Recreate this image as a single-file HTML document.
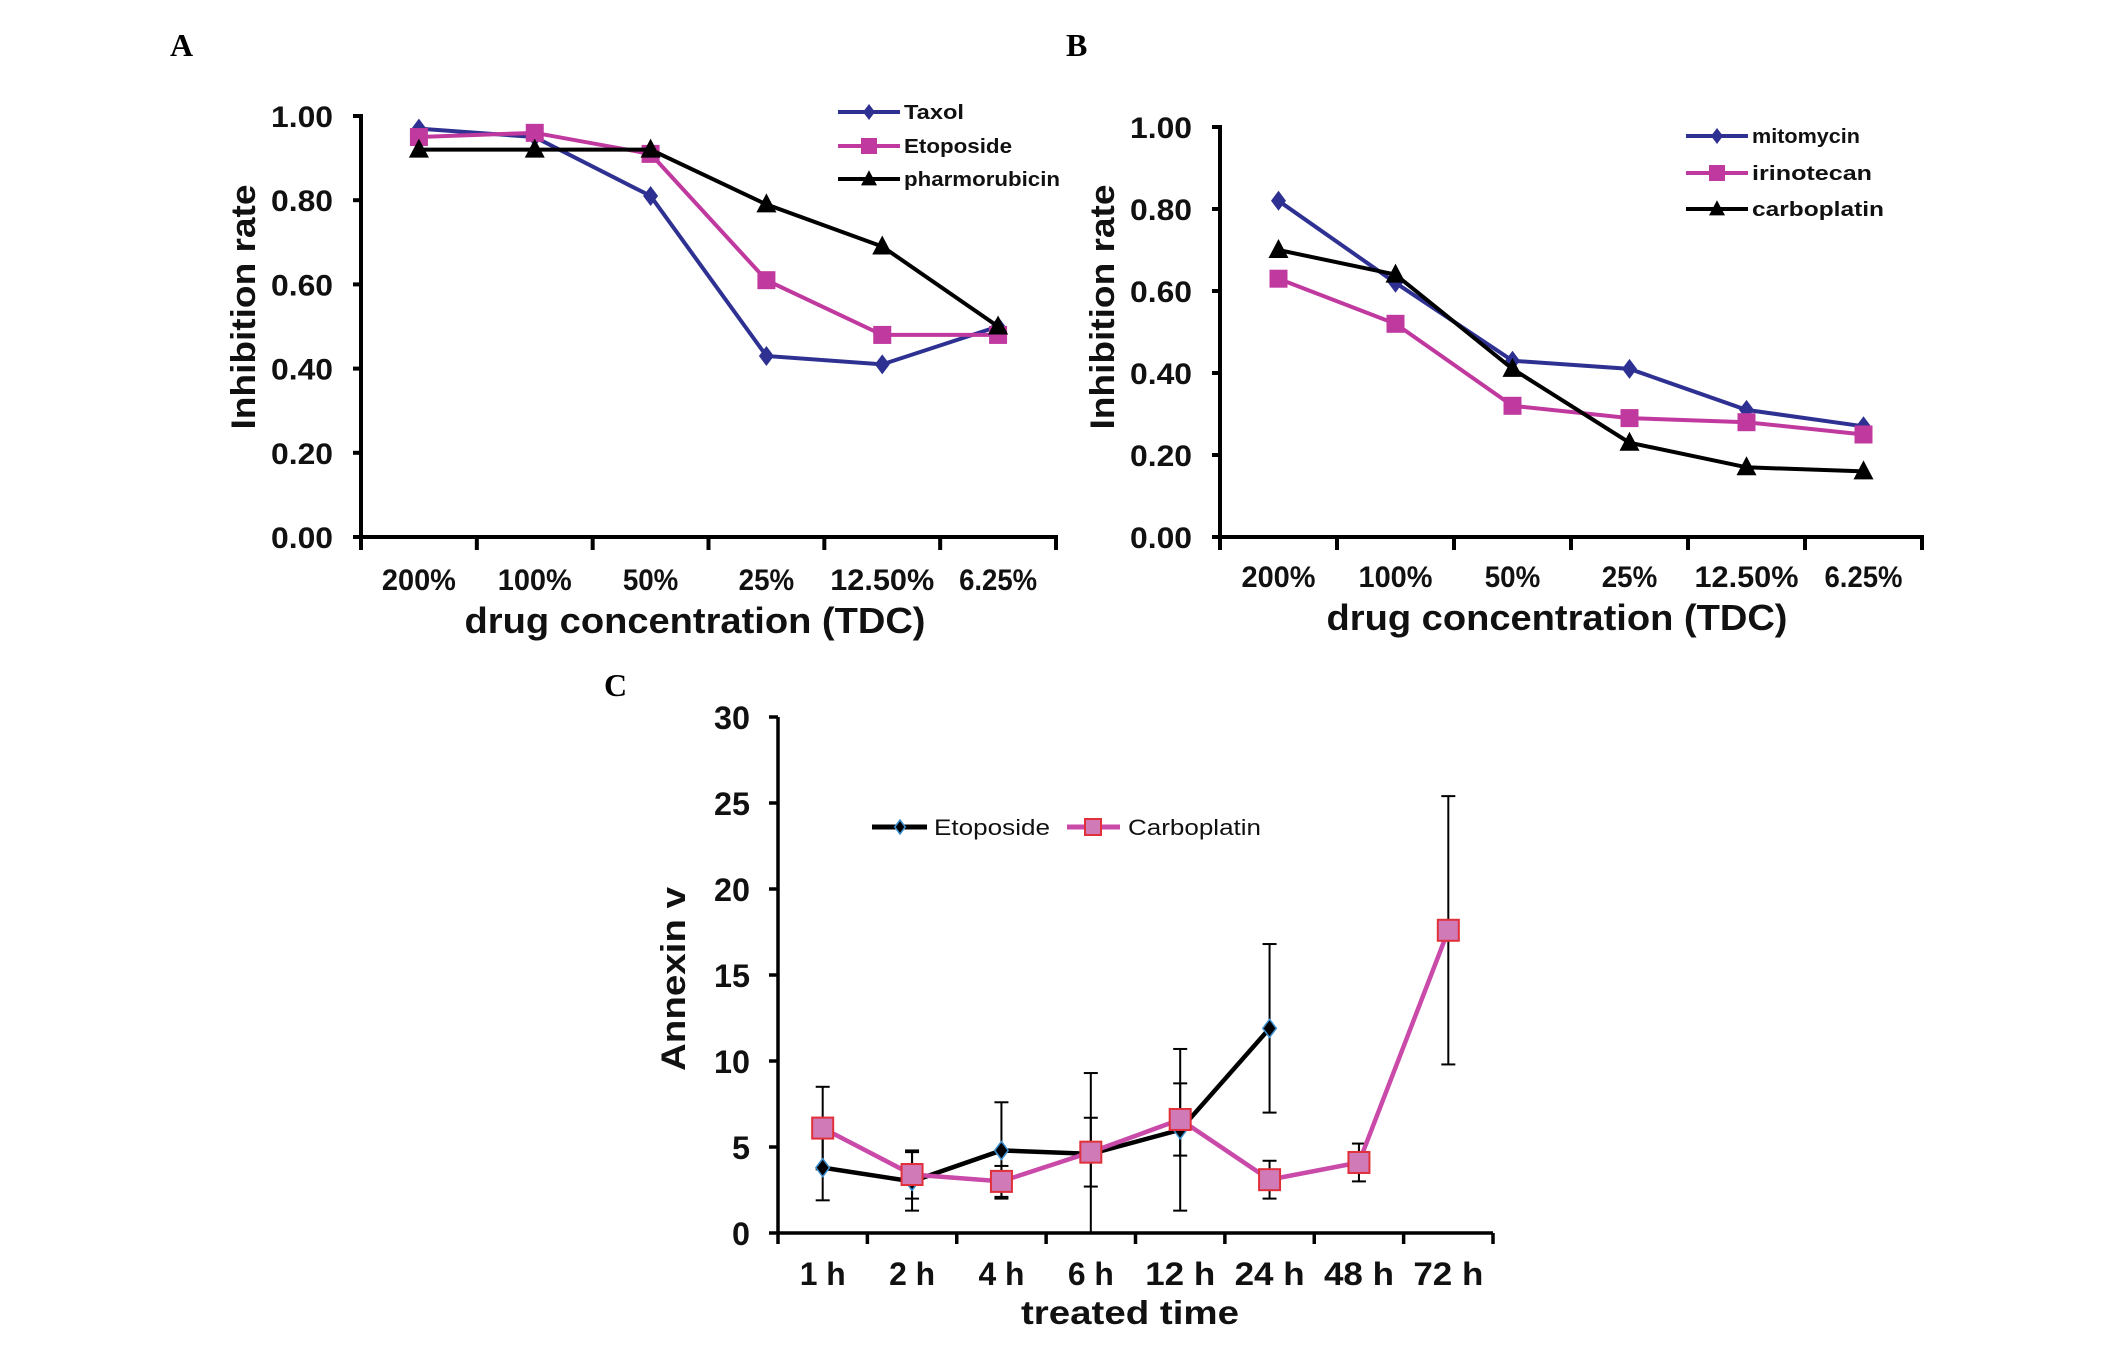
<!DOCTYPE html>
<html><head><meta charset="utf-8"><style>
html,body{margin:0;padding:0;background:#fff;overflow:hidden;}
svg{display:block;}
text{font-family:"Liberation Sans",sans-serif;}
</style></head>
<body>
<svg id="fig" width="2126" height="1347" viewBox="0 0 2126 1347" xmlns="http://www.w3.org/2000/svg">
<rect width="2126" height="1347" fill="#fff"/>
<text x="170" y="56" font-weight="bold" font-size="32" style="font-family:'Liberation Serif',serif">A</text>
<text x="1066" y="56" font-weight="bold" font-size="32" style="font-family:'Liberation Serif',serif">B</text>
<text x="604" y="696" font-weight="bold" font-size="32" style="font-family:'Liberation Serif',serif">C</text>
</svg>
<script>
// ---- Panel A data ----
const catsAB = ["200%","100%","50%","25%","12.50%","6.25%"];
const ticksAB = ["0.00","0.20","0.40","0.60","0.80","1.00"];
const taxol = [0.97,0.95,0.81,0.43,0.41,0.50];
const etopA = [0.95,0.96,0.91,0.61,0.48,0.48];
const pharmo = [0.92,0.92,0.92,0.79,0.69,0.50];
// ---- Panel B data ----
const mito = [0.82,0.62,0.43,0.41,0.31,0.27];
const irino = [0.63,0.52,0.32,0.29,0.28,0.25];
const carboB = [0.70,0.64,0.41,0.23,0.17,0.16];
// ---- Panel C data ----
const catsC = ["1 h","2 h","4 h","6 h","12 h","24 h","48 h","72 h"];
const ticksC = ["0","5","10","15","20","25","30"];
const etopC = [3.8,3.0,4.8,4.6,6.0,11.9];
const etopCerr = [1.9,1.7,2.8,4.7,4.7,4.9];
const carboC = [6.1,3.4,3.0,4.7,6.6,3.1,4.1,17.6];
const carboCerr = [2.4,1.4,0.9,2.0,2.1,1.1,1.1,7.8];

const NS="http://www.w3.org/2000/svg";
const svg=document.getElementById('fig');
function mk(tag,attrs,parent){const e=document.createElementNS(NS,tag);for(const k in attrs)e.setAttribute(k,attrs[k]);(parent||svg).appendChild(e);return e;}
function txt(s,x,y,size,anchor,len,parent,weight){const t=mk('text',{x:x,y:y,'font-size':size,'text-anchor':anchor||'start','font-weight':weight||'bold',fill:'#111'},parent);if(len){t.setAttribute('textLength',len);t.setAttribute('lengthAdjust','spacingAndGlyphs');}t.textContent=s;return t;}

function marker(g,type,x,y,color,size,stroke){
  let m;
  if(type==='diamond'){m=mk('polygon',{points:`${x},${y-size} ${x+size*0.75},${y} ${x},${y+size} ${x-size*0.75},${y}`,fill:color,stroke:stroke||'none','stroke-width':1.5},g);}
  else if(type==='square'){m=mk('rect',{x:x-size,y:y-size,width:2*size,height:2*size,fill:color,stroke:stroke||'none','stroke-width':2},g);}
  else {m=mk('polygon',{points:`${x},${y-size*1.1} ${x+size},${y+size*0.8} ${x-size},${y+size*0.8}`,fill:color},g);}
  return m;
}

function panelAB(cfg){
  const g=mk('g',{});
  
  
  const {x0,x1,y0,y1}=cfg; const n=catsAB.length;
  const xs=i=>x0+(x1-x0)*(i+0.5)/n;
  const ys=v=>y0+(y1-y0)*v;
  const ya=mk('line',{x1:x0,y1:y0,x2:x0,y2:y1-2,stroke:'#000','stroke-width':4},g);
  
  
  const xa=mk('line',{x1:x0-8,y1:y0,x2:x1+2,y2:y0,stroke:'#000','stroke-width':4},g);
  
  
  ticksAB.forEach((t)=>{const v=parseFloat(t);const y=ys(v);
    mk('line',{x1:x0-8,y1:y,x2:x0,y2:y,stroke:'#000','stroke-width':4},g);
    const tl=txt(t,x0-28,y+11,30,'end',62,g);
    
    });
  for(let i=0;i<=n;i++){const x=x0+(x1-x0)*i/n;mk('line',{x1:x,y1:y0,x2:x,y2:y0+13,stroke:'#000','stroke-width':4},g);}
  catsAB.forEach((c,i)=>{const tl=txt(c,xs(i),cfg.tickY,30,'middle',c.length===6?104:(c.length===5?78:c.length*18.5),g);
    
    });
  const xt=txt('drug concentration (TDC)',cfg.titleX,cfg.titleY,36,'middle',461,g);
  
  
  const yt=txt('Inhibition rate',0,0,34,'middle',245,g);
  yt.setAttribute('transform',`translate(${cfg.ytX},${cfg.ytY}) rotate(-90)`);
  
  
  cfg.series.forEach((s,si)=>{
    const pts=s.data.map((v,i)=>`${xs(i)},${ys(v)}`).join(' ');
    const pl=mk('polyline',{points:pts,fill:'none',stroke:s.color,'stroke-width':4},g);
    
    
    s.data.forEach((v,i)=>{const m=marker(g,s.type,xs(i),ys(v),s.color,s.type==='square'?9:10);
      
      });
    const ly=cfg.legY[si];
    const ll=mk('line',{x1:cfg.legX,y1:ly,x2:cfg.legX+62,y2:ly,stroke:s.color,'stroke-width':4},g);
    
    
    marker(g,s.type,cfg.legX+31,ly,s.color,8);
    const lt=txt(s.label,cfg.legX+66,ly+7,20,'start',s.label.length*12,g);
    
    
  });
}
const BLUE='#2e3192', MAG='#c0399f', BLK='#000';
panelAB({name:'chart-a',x0:361,x1:1056,y0:537,y1:116,tickY:590,titleX:695,titleY:633,ytX:255,ytY:307,legX:838,legY:[112,146,179],
  series:[{key:'taxol',label:'Taxol',data:taxol,color:BLUE,type:'diamond'},
          {key:'etoposide',label:'Etoposide',data:etopA,color:MAG,type:'square'},
          {key:'pharmorubicin',label:'pharmorubicin',data:pharmo,color:BLK,type:'triangle'}]});
panelAB({name:'chart-b',x0:1220,x1:1922,y0:537,y1:127,tickY:587,titleX:1557,titleY:630,ytX:1114,ytY:307,legX:1686,legY:[136,173,209],
  series:[{key:'mitomycin',label:'mitomycin',data:mito,color:BLUE,type:'diamond'},
          {key:'irinotecan',label:'irinotecan',data:irino,color:MAG,type:'square'},
          {key:'carboplatin',label:'carboplatin',data:carboB,color:BLK,type:'triangle'}]});

// ---- Panel C ----
(function(){
  const g=mk('g',{});
  
  
  const x0=778,x1=1493,y0=1233,y1=717,n=catsC.length;
  const xs=i=>x0+(x1-x0)*(i+0.5)/n;
  const ys=v=>y0+(y1-y0)*v/30;
  const ya=mk('line',{x1:x0,y1:y0,x2:x0,y2:y1,stroke:'#000','stroke-width':3.5},g);
  
  
  const xa=mk('line',{x1:x0,y1:y0,x2:x1,y2:y0,stroke:'#000','stroke-width':3.5},g);
  
  
  ticksC.forEach(t=>{const y=ys(parseFloat(t));mk('line',{x1:x0-9,y1:y,x2:x0,y2:y,stroke:'#000','stroke-width':3.5},g);
    const tl=txt(t,x0-28,y+12,32,'end',t.length*18,g);
    
    });
  for(let i=0;i<=n;i++){const x=x0+(x1-x0)*i/n;mk('line',{x1:x,y1:y0,x2:x,y2:y0+11,stroke:'#000','stroke-width':3.5},g);}
  catsC.forEach((c,i)=>{const tl=txt(c,xs(i),1285,32,'middle',c.length===3?46:70,g);
    
    });
  const xt=txt('treated time',1130,1324,33,'middle',218,g);
  
  
  const yt=txt('Annexin v',0,0,34,'middle',184,g);
  yt.setAttribute('transform','translate(685,979) rotate(-90)');
  
  
  function errbars(data,err,key){data.forEach((v,i)=>{const x=xs(i);
    const e=mk('line',{x1:x,y1:ys(Math.max(0,v-err[i])),x2:x,y2:ys(v+err[i]),stroke:'#000','stroke-width':2},g);
    
    
    [v-err[i],v+err[i]].forEach(w=>{if(w>0)mk('line',{x1:x-7,y1:ys(w),x2:x+7,y2:ys(w),stroke:'#000','stroke-width':2},g);});});}
  errbars(etopC,etopCerr,'etoposide');
  errbars(carboC,carboCerr,'carboplatin');
  const pe=mk('polyline',{points:etopC.map((v,i)=>`${xs(i)},${ys(v)}`).join(' '),fill:'none',stroke:'#000','stroke-width':4.5},g);
  
  
  etopC.forEach((v,i)=>{const m=marker(g,'diamond',xs(i),ys(v),'#000',9,'#3a8fd0');
    
    });
  const pc=mk('polyline',{points:carboC.map((v,i)=>`${xs(i)},${ys(v)}`).join(' '),fill:'none',stroke:'#c94aa8','stroke-width':4.5},g);
  
  
  carboC.forEach((v,i)=>{const m=marker(g,'square',xs(i),ys(v),'#d07ab8',10.5,'#e0303a');
    
    });
  const l1=mk('line',{x1:872,y1:827,x2:927,y2:827,stroke:'#000','stroke-width':5},g);
  
  
  marker(g,'diamond',900,827,'#000',7,'#3a8fd0');
  const t1=txt('Etoposide',934,835,22,'start',116,g,'normal');
  
  
  const l2=mk('line',{x1:1067,y1:827,x2:1120,y2:827,stroke:'#c94aa8','stroke-width':5},g);
  
  
  marker(g,'square',1093,827,'#d07ab8',8,'#e0303a');
  const t2=txt('Carboplatin',1128,835,22,'start',133,g,'normal');
  
  
})();
</script>
</body></html>
